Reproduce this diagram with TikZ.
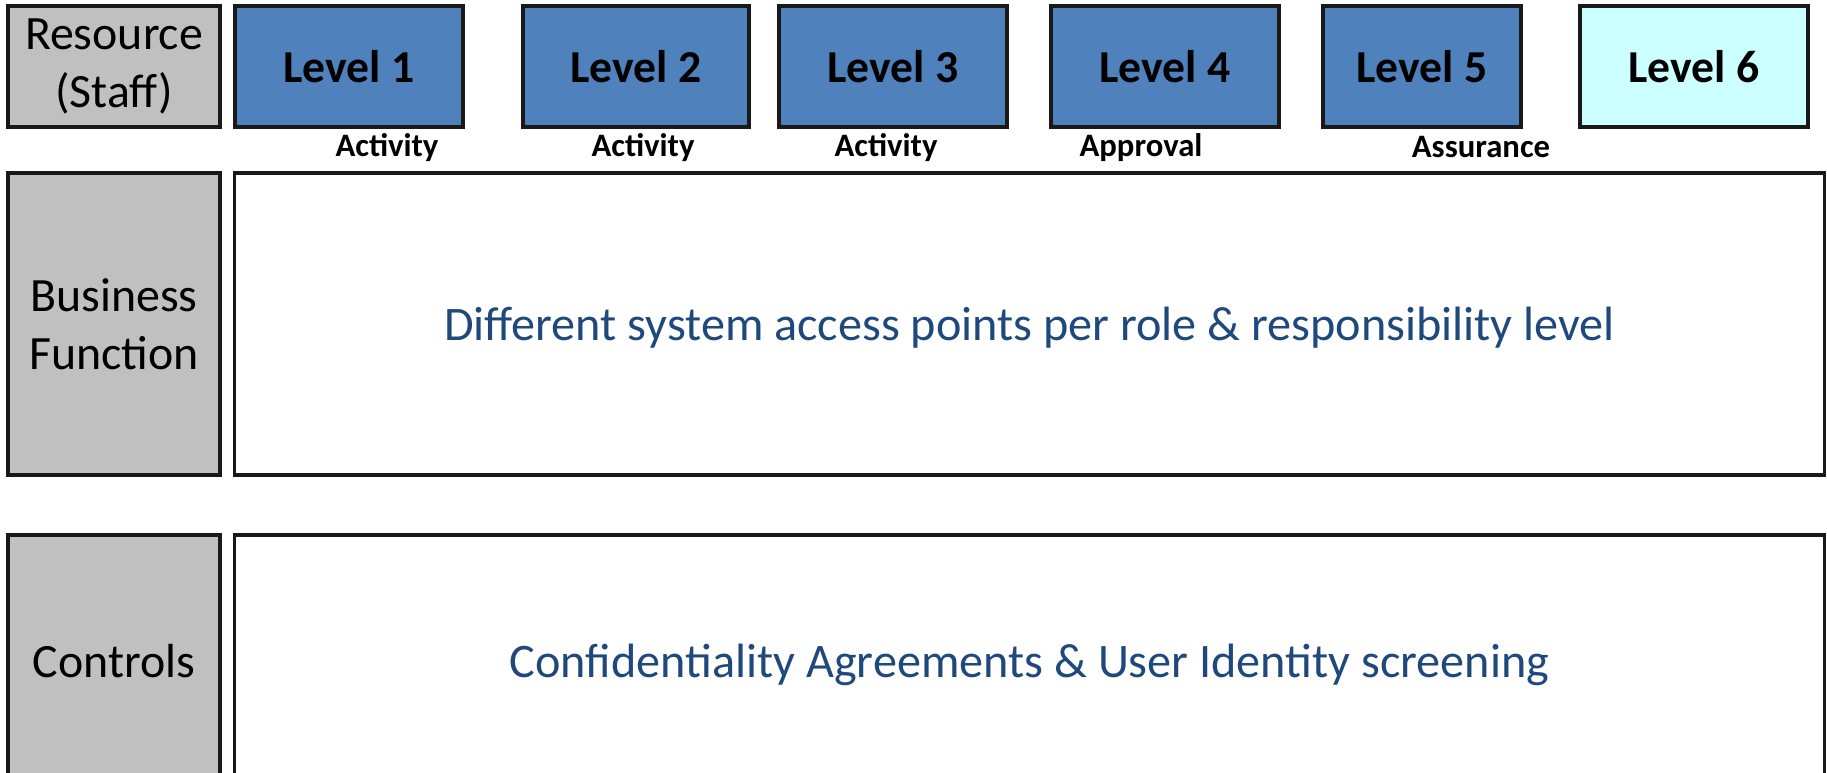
\documentclass[tikz,border=0pt]{standalone}
\usepackage{xcolor}
\usepackage{fontspec}
\setmainfont{Carlito}
\usepackage{tikz}
\usetikzlibrary{positioning}

\definecolor{lvlblue}{HTML}{4F81BD}
\definecolor{lvlcyan}{HTML}{CCFFFF}
\definecolor{sidegray}{HTML}{C0C0C0}
\definecolor{txtblue}{HTML}{1F497D}

\begin{document}
\begin{tikzpicture}[x=0.01cm, y=-0.01cm, box/.style = {draw=black!90, line width=1pt, inner sep=0pt, align=center}]
				\tikzset{lvl/.style={box, fill=lvlblue, minimum height=1.21cm, font=\fontsize{13}{16}\selectfont\bfseries}}
				\tikzset{side/.style={box, fill=sidegray, minimum width=2.12cm, font=\fontsize{13.6}{16.4}\selectfont}}
				\tikzset{tag/.style={inner sep=0pt, font=\fontsize{9.3}{11}\selectfont\bfseries}}
				\tikzset{wide/.style={box, fill=white, minimum width=15.89cm, text depth=0pt, text=txtblue, font=\fontsize{13.7}{16}\selectfont}}

				\useasboundingbox (0,0) rectangle (1827,772);

				\node[side, minimum height=1.21cm] (res) at (114,66.5) {Resource\\(Staff)};
				\node[lvl, minimum width=2.28cm] (lvlA) at (349,66.5) {Level 1};
				\node[lvl, minimum width=2.26cm] (lvlB) at (636,66.5) {Level 2};
				\node[lvl, minimum width=2.28cm] (lvlC) at (893,66.5) {Level 3};
				\node[lvl, minimum width=2.28cm] (lvlD) at (1165,66.5) {Level 4};
				\node[lvl, minimum width=1.98cm] (lvlE) at (1422,66.5) {Level 5};
				\node[lvl, minimum width=2.28cm, fill=lvlcyan] (lvlF) at (1694,66.5) {Level 6};

				\node[tag] (actA) at (387,148) {Activity};
				\node[tag] (actB) at (643,148) {Activity};
				\node[tag] (actC) at (886,148) {Activity};
				\node[tag] (appr) at (1141,148) {Approval};
				\node[tag] (assu) at (1481,147) {Assurance};

				\node[side, minimum height=3.02cm] (func) at (114,324) {Business\\Function};
				\node[wide, minimum height=3.02cm] (access) at (1029.5,324) {Different system access points per role \& responsibility level};

				\node[side, minimum height=2.52cm] (ctrl) at (114,661) {Controls};
				\node[wide, minimum height=2.52cm] (screen) at (1029.5,661) {Confidentiality Agreements \& User Identity screening};

			\end{tikzpicture}
\end{document}
